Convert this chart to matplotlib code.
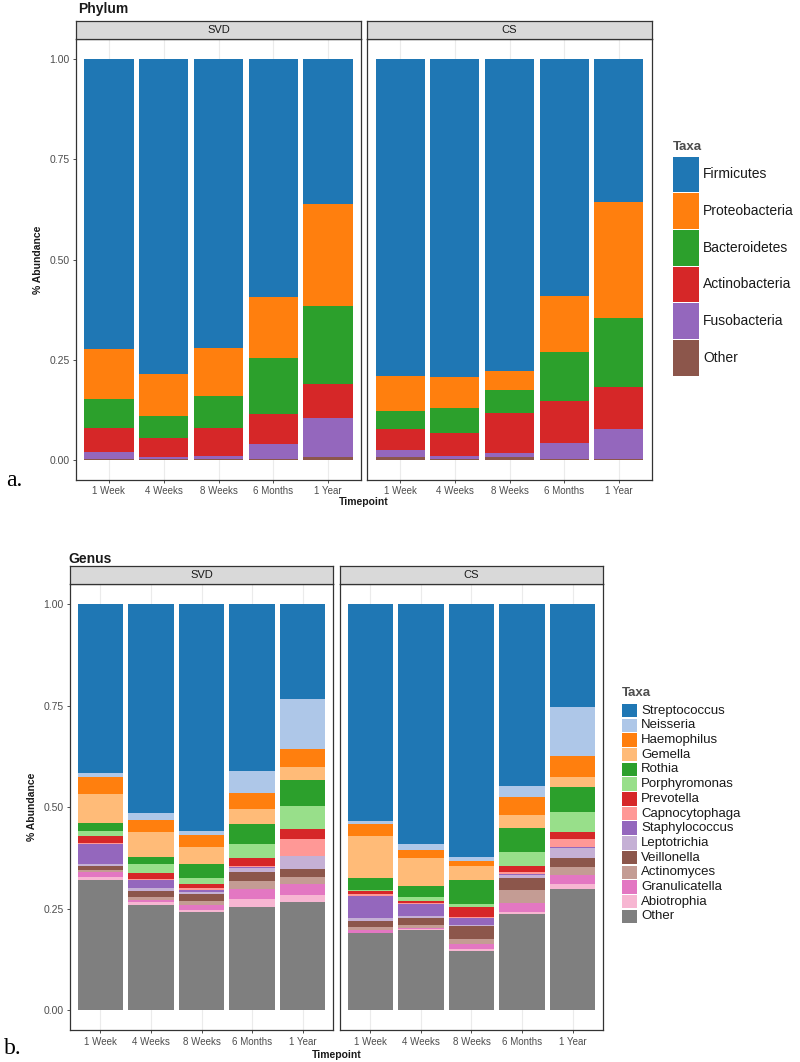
import numpy as np
import matplotlib
matplotlib.use("Agg")
import matplotlib.pyplot as plt
from matplotlib.patches import Rectangle

plt.rcParams['font.family'] = ['Liberation Sans', 'DejaVu Sans']

W, H = 800, 1062

timepoints = ["1 Week", "4 Weeks", "8 Weeks", "6 Months", "1 Year"]

# ---- phylum level (legend order = top of stack first)
phylum_taxa = ["Firmicutes", "Proteobacteria", "Bacteroidetes",
               "Actinobacteria", "Fusobacteria", "Other"]
phylum_colors = ["#1f77b4", "#ff7f0e", "#2ca02c", "#d62728", "#9467bd", "#8c564b"]

phylum_svd = {
    "Firmicutes":     [0.722, 0.786, 0.721, 0.593, 0.360],
    "Proteobacteria": [0.126, 0.104, 0.119, 0.153, 0.256],
    "Bacteroidetes":  [0.072, 0.056, 0.080, 0.140, 0.194],
    "Actinobacteria": [0.059, 0.046, 0.070, 0.074, 0.085],
    "Fusobacteria":   [0.018, 0.006, 0.007, 0.038, 0.097],
    "Other":          [0.003, 0.002, 0.003, 0.002, 0.008],
}
phylum_cs = {
    "Firmicutes":     [0.790, 0.792, 0.779, 0.591, 0.357],
    "Proteobacteria": [0.088, 0.079, 0.046, 0.140, 0.289],
    "Bacteroidetes":  [0.044, 0.062, 0.057, 0.121, 0.171],
    "Actinobacteria": [0.054, 0.057, 0.100, 0.105, 0.105],
    "Fusobacteria":   [0.017, 0.008, 0.010, 0.041, 0.075],
    "Other":          [0.007, 0.002, 0.008, 0.002, 0.003],
}

# ---- genus level
genus_taxa = ["Streptococcus", "Neisseria", "Haemophilus", "Gemella", "Rothia",
              "Porphyromonas", "Prevotella", "Capnocytophaga", "Staphylococcus",
              "Leptotrichia", "Veillonella", "Actinomyces", "Granulicatella",
              "Abiotrophia", "Other"]
genus_colors = ["#1f77b4", "#aec7e8", "#ff7f0e", "#ffbb78", "#2ca02c",
                "#98df8a", "#d62728", "#ff9896", "#9467bd", "#c5b0d5",
                "#8c564b", "#c49c94", "#e377c2", "#f7b6d2", "#7f7f7f"]

genus_svd = {
    "Streptococcus":  [0.417, 0.515, 0.559, 0.411, 0.234],
    "Neisseria":      [0.008, 0.017, 0.009, 0.055, 0.123],
    "Haemophilus":    [0.042, 0.029, 0.029, 0.038, 0.045],
    "Gemella":        [0.072, 0.063, 0.042, 0.038, 0.031],
    "Rothia":         [0.021, 0.017, 0.036, 0.048, 0.065],
    "Porphyromonas":  [0.012, 0.022, 0.014, 0.036, 0.055],
    "Prevotella":     [0.016, 0.014, 0.010, 0.019, 0.025],
    "Capnocytophaga": [0.004, 0.002, 0.004, 0.002, 0.043],
    "Staphylococcus": [0.048, 0.021, 0.006, 0.002, 0.000],
    "Leptotrichia":   [0.004, 0.006, 0.004, 0.012, 0.031],
    "Veillonella":    [0.010, 0.016, 0.019, 0.020, 0.019],
    "Actinomyces":    [0.006, 0.006, 0.010, 0.021, 0.019],
    "Granulicatella": [0.012, 0.006, 0.012, 0.024, 0.026],
    "Abiotrophia":    [0.008, 0.008, 0.004, 0.021, 0.019],
    "Other":          [0.320, 0.258, 0.242, 0.253, 0.265],
}
genus_cs = {
    "Streptococcus":  [0.533, 0.592, 0.623, 0.449, 0.253],
    "Neisseria":      [0.008, 0.013, 0.010, 0.026, 0.122],
    "Haemophilus":    [0.029, 0.020, 0.013, 0.044, 0.051],
    "Gemella":        [0.104, 0.070, 0.034, 0.033, 0.025],
    "Rothia":         [0.029, 0.026, 0.058, 0.059, 0.061],
    "Porphyromonas":  [0.004, 0.011, 0.007, 0.033, 0.050],
    "Prevotella":     [0.008, 0.005, 0.025, 0.016, 0.016],
    "Capnocytophaga": [0.003, 0.002, 0.002, 0.004, 0.019],
    "Staphylococcus": [0.056, 0.030, 0.018, 0.003, 0.003],
    "Leptotrichia":   [0.006, 0.003, 0.004, 0.008, 0.025],
    "Veillonella":    [0.016, 0.018, 0.031, 0.028, 0.023],
    "Actinomyces":    [0.007, 0.008, 0.012, 0.033, 0.020],
    "Granulicatella": [0.006, 0.003, 0.012, 0.022, 0.022],
    "Abiotrophia":    [0.002, 0.002, 0.006, 0.005, 0.011],
    "Other":          [0.189, 0.197, 0.145, 0.237, 0.299],
}


def box(x0, y0, x1, y1):
    # pixel box (top-left origin) -> figure fraction rect
    return [x0 / W, 1 - y1 / H, (x1 - x0) / W, (y1 - y0) / H]


fig = plt.figure(figsize=(8, 10.62), dpi=100)
DARK = '#333333'
GREY = '#4d4d4d'


def draw_panel(rect, strip_y, label, data, taxa, colors, show_y):
    ax = fig.add_axes(box(*rect))
    x = np.arange(len(timepoints))
    bottom = np.zeros(len(timepoints))
    for name, col in zip(taxa[::-1], colors[::-1]):
        vals = np.array(data[name])
        ax.bar(x, vals, 0.9, bottom=bottom, color=col, linewidth=0, zorder=2)
        bottom += vals
    ax.set_xlim(-0.6, len(timepoints) - 0.4)
    ax.set_ylim(-0.05, 1.05)
    ax.set_xticks(x)
    ax.set_xticklabels(timepoints, fontsize=7, color=GREY)
    ax.set_yticks([0, 0.25, 0.5, 0.75, 1.0])
    ax.grid(axis='x', color='#ebebeb', linewidth=0.8)
    ax.set_axisbelow(True)
    if show_y:
        ax.set_yticklabels(['0.00', '0.25', '0.50', '0.75', '1.00'],
                           fontsize=7.5, color=GREY)
        ax.set_ylabel('% Abundance', fontsize=7.5, fontweight='bold',
                      color='#1a1a1a', labelpad=5)
    else:
        ax.tick_params(axis='y', left=False, labelleft=False)
    ax.tick_params(length=2.5, width=0.6, color=DARK, pad=2)
    for s in ax.spines.values():
        s.set_color(DARK)
        s.set_linewidth(0.9)

    sax = fig.add_axes(box(rect[0], strip_y, rect[2], rect[1]))
    sax.set_facecolor('#d9d9d9')
    sax.set_xticks([])
    sax.set_yticks([])
    for s in sax.spines.values():
        s.set_color(DARK)
        s.set_linewidth(0.9)
    sax.text(0.5, 0.5, label, ha='center', va='center', fontsize=8,
             color='#1a1a1a', transform=sax.transAxes)
    return ax


# phylum panels
draw_panel((76, 39.3, 361, 480), 20.7, "SVD", phylum_svd,
           phylum_taxa, phylum_colors, True)
draw_panel((367.3, 39.3, 651.7, 480), 20.7, "CS", phylum_cs,
           phylum_taxa, phylum_colors, False)

# genus panels
draw_panel((70, 584, 333, 1030.3), 566, "SVD", genus_svd,
           genus_taxa, genus_colors, True)
draw_panel((340, 584, 603, 1030.3), 566, "CS", genus_cs,
           genus_taxa, genus_colors, False)

# overlay in pixel coordinates for titles and legends
ov = fig.add_axes([0, 0, 1, 1])
ov.set_xlim(0, W)
ov.set_ylim(H, 0)
ov.axis('off')

ov.text(78, 9, "Phylum", fontsize=10, fontweight='bold', color='#1a1a1a',
        ha='left', va='center')
ov.text(68, 559, "Genus", fontsize=10, fontweight='bold', color='#1a1a1a',
        ha='left', va='center')
ov.text((76 + 651.7) / 2, 502, "Timepoint", fontsize=7.5, fontweight='bold',
        ha='center', va='center', color='#1a1a1a')
ov.text((70 + 603) / 2, 1055, "Timepoint", fontsize=7.5, fontweight='bold',
        ha='center', va='center', color='#1a1a1a')
ov.text(6, 481, "a.", fontsize=17, family='Liberation Serif', ha='left', va='center')
ov.text(4, 1049, "b.", fontsize=17, family='Liberation Serif', ha='left', va='center')

# phylum legend
ov.text(673, 147, "Taxa", fontsize=9.5, fontweight='bold', color=GREY,
        ha='left', va='center')
step = 36.7
for i, (name, col) in enumerate(zip(phylum_taxa, phylum_colors)):
    y0 = 156 + i * step
    ov.add_patch(Rectangle((673, y0 + 0.5), 25.5, step - 1, color=col, lw=0))
    ov.text(703, y0 + step / 2, name, fontsize=10, color='#1a1a1a',
            ha='left', va='center')

# genus legend
ov.text(622, 693, "Taxa", fontsize=9.5, fontweight='bold', color=GREY,
        ha='left', va='center')
step = 14.7
for i, (name, col) in enumerate(zip(genus_taxa, genus_colors)):
    y0 = 703.3 + i * step
    ov.add_patch(Rectangle((622, y0 + 0.5), 15, step - 1.2, color=col, lw=0))
    ov.text(641, y0 + step / 2, name, fontsize=9.5, color='#1a1a1a',
            ha='left', va='center')

fig.savefig("out.png", dpi=100)
